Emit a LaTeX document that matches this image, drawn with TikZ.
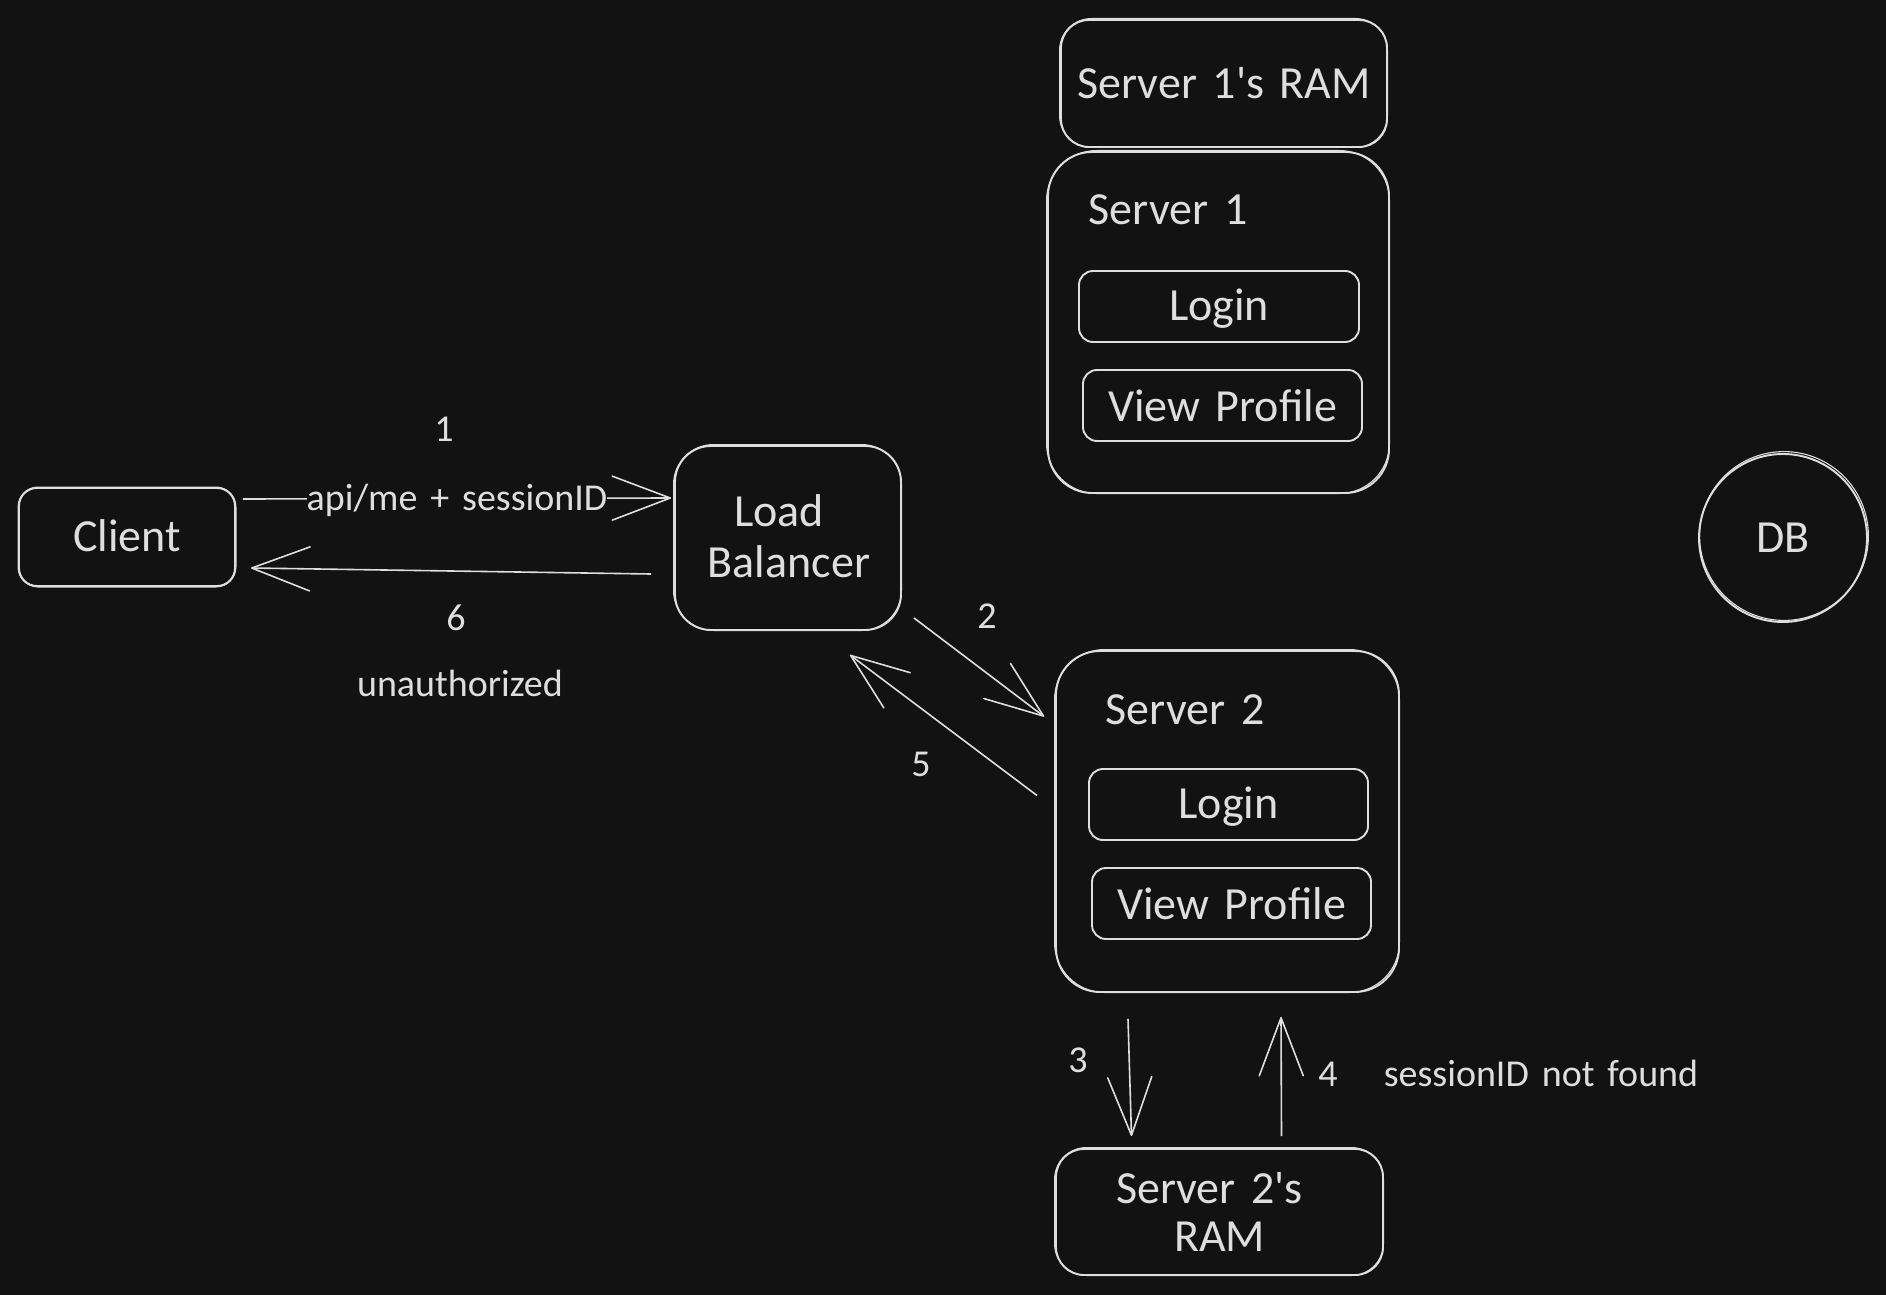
\documentclass[tikz,border=0pt]{standalone}
\usepackage{fontspec}
\setmainfont{Carlito}[WordSpace=1.5]
\usetikzlibrary{arrows.meta,calc}
\definecolor{bgc}{HTML}{121212}
\definecolor{ink}{HTML}{DEDEDE}
\tikzset{
  box/.style={draw=ink,line width=0.95pt,rounded corners=#1,inner sep=0pt,text=ink,align=center,font=\bigfont},
  box/.default=9pt,
  title/.style={text=ink,inner sep=0pt,font=\bigfont},
  small/.style={text=ink,inner sep=0pt,font=\smallfont},
  conn/.style={draw=ink,line width=0.8pt,-{Straight Barb[length=29pt,width=22pt,line width=0.8pt,round]}},
  rough/.style={draw=ink,line width=0.55pt,rounded corners=#1},
}
\newcommand\bigfont{\fontsize{23}{25}\selectfont}
\newcommand\smallfont{\fontsize{19}{21}\selectfont}
\newcommand\roughbox[4]{\draw[rough=#2] ([shift={(-#3,#4)}]#1.south west) rectangle ([shift={(#4,-#3)}]#1.north east);}
\newcommand\nudge[2]{\raisebox{#1}[\height][\depth]{#2}}
\begin{document}
\begin{tikzpicture}[x=0.5pt,y=-0.5pt]
\useasboundingbox[fill=bgc] (0,0) rectangle (1886,1295);
% boxes
\node[box=9pt,minimum width=108pt,minimum height=49pt] (client) at (127,537) {\nudge{0.8pt}{Client}};
\node[box=18pt,minimum width=113pt,minimum height=92pt] (lb) at (788,538) {\nudge{1pt}{Load}\hspace{9pt}\mbox{}\\\hspace{1pt}\nudge{0.5pt}{Balancer}};
\node[box=14pt,minimum width=163pt,minimum height=63.5pt] (ram1) at (1224,83.5) {Server 1\textquotesingle s RAM};
\node[box=22pt,minimum width=170.5pt,minimum height=170.5pt] (s1) at (1218.5,322.5) {};
\node[box=7pt,minimum width=140pt,minimum height=35.5pt] (login1) at (1219,306.5) {\nudge{-1.2pt}{Login}};
\node[box=7pt,minimum width=139.5pt,minimum height=35.5pt] (view1) at (1222.5,405.5) {View Profile};
\node[box=22pt,minimum width=171.5pt,minimum height=170.5pt] (s2) at (1227.5,821.5) {};
\node[box=7pt,minimum width=139.5pt,minimum height=35.5pt] (login2) at (1228.5,804.5) {\nudge{-1.2pt}{Login}};
\node[box=7pt,minimum width=139.5pt,minimum height=35.5pt] (view2) at (1231.5,903.5) {View Profile};
\node[box=14pt,minimum width=163.5pt,minimum height=63pt] (ram2) at (1219.5,1212) {Server 2\textquotesingle s\hspace{10pt}\mbox{}\\[-1pt]RAM};
\node[circle,draw=ink,line width=0.95pt,inner sep=0pt,minimum size=84pt,text=ink,font=\bigfont] (db) at (1783,538) {DB};
% second sketch strokes
\roughbox{client}{10pt}{0}{0}
\roughbox{lb}{20pt}{0.5}{-0.5}
\roughbox{ram1}{16pt}{0.5}{-0.5}
\roughbox{s1}{25pt}{0.5}{-0.5}
\roughbox{s2}{25pt}{0.5}{-0.5}
\roughbox{ram2}{16pt}{0.5}{-0.5}
\draw[rough=0pt] ([shift={(1,-2)}]db.center) circle[radius=42.2pt];
% titles
\node[title] (t1) at (1168,210) {Server 1};
\node[title] (t2) at (1185,710) {Server 2};
% connectors
\draw[conn] ([shift={(7,-38)}]client.east) -- ([shift={(-3,-40)}]lb.west);
\draw[conn] ([shift={(-23,36)}]lb.west) -- ([shift={(15,31)}]client.east);
\draw[conn] ([shift={(12,-13)}]lb.south east) -- ([shift={(-11,-105)}]s2.west);
\draw[conn] ([shift={(-18,-26)}]s2.west) -- ([shift={(62,24)}]lb.south);
\draw[conn] ([shift={(-99.5,26)}]s2.south) -- ([shift={(-88,-12)}]ram2.north);
\draw[conn] ([shift={(62,-12)}]ram2.north) -- ([shift={(53.5,24)}]s2.south);
% labels
\node[small] (n1) at (444,429) {1};
\node[small,fill=bgc] (api) at (457,500) {api/me + sessionID};
\node[small] (n6) at (456,618) {6};
\node[small] (unauth) at (460,683) {unauthorized};
\node[small] (n2) at (987,616) {2};
\node[small] (n5) at (921,764) {5};
\node[small] (n3) at (1078,1060) {3};
\node[small] (n4) at (1328,1074) {4};
\node[small] (notfound) at (1541,1073) {sessionID not found};
\end{tikzpicture}
\end{document}
